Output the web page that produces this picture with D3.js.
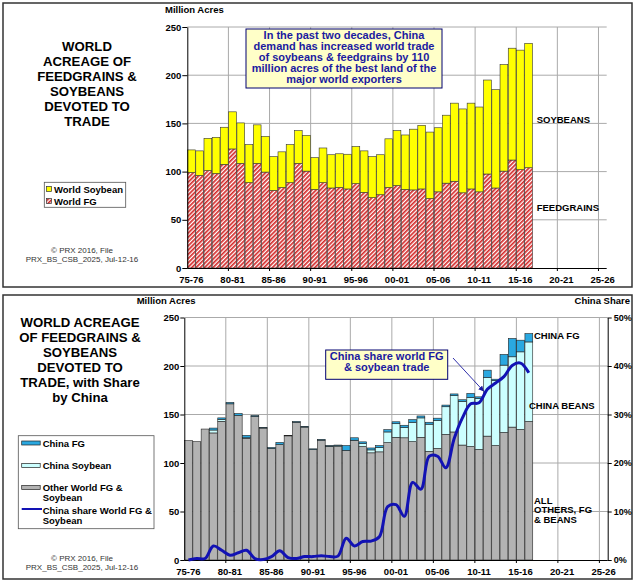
<!DOCTYPE html>
<html><head><meta charset="utf-8">
<script src="https://cdn.jsdelivr.net/npm/d3@7"></script>
<style>body{margin:0;background:#fff}svg{display:block}text{font-family:"Liberation Sans",Arial,Helvetica,sans-serif}</style>
</head><body><svg id="c" width="638" height="584"></svg>
<script>
// ---------- DATA ----------
const categories = ["75-76","76-77","77-78","78-79","79-80","80-81","81-82","82-83","83-84","84-85",
"85-86","86-87","87-88","88-89","89-90","90-91","91-92","92-93","93-94","94-95",
"95-96","96-97","97-98","98-99","99-00","00-01","01-02","02-03","03-04","04-05",
"05-06","06-07","07-08","08-09","09-10","10-11","11-12","12-13","13-14","14-15",
"15-16","16-17","17-18","18-19","19-20","20-21","21-22","22-23","23-24","24-25","25-26"];
const tickLabels = ["75-76","80-81","85-86","90-91","95-96","00-01","05-06","10-11","15-16","20-21","25-26"];
const yTicks = [0,50,100,150,200,250];
const shareTicks = [0,0.1,0.2,0.3,0.4,0.5];

// Top chart (million acres)
const worldFG = [99,96,101,98,107.5,123.5,108.5,88.5,108.5,99.5,80.5,83.5,88.5,108.5,100.5,81.5,88.5,83,83.5,82,
87.5,78.5,73,76,83.5,85.5,81.5,81,82,72,79,88,90,78,82,79,97.5,83,100.5,112,102,104];
const worldSoy = [23.5,25.5,33.5,37.5,38.5,38.5,42,39.5,40,37,35,37,39.5,34,37,33,36,34.5,35,36,
38.5,43,42.5,41.5,50.5,57,56.5,63,66,69,66.5,70.5,81,87,89,88,97.5,102,110.5,116,124,129];

// Bottom chart (million acres, share %)
const otherWorld = [123,122,135,131,143,161,149,125.5,148,136,115,119,128,142,137,114,123.5,117,117,113,
123,117,110.5,111.5,121,126.5,126,122,126.5,112,115,129.5,132,118.5,117,114,127.7,118,131.5,137,134.6,142.8];
const chinaSoy = [0,0,0,3,2,0,0,0.5,0,0,0,0,0,0,0,0,0,0.3,1,0,
0.5,3,3,4.5,11,14,10.5,20,20,28,28.8,28.5,37.5,45,50.6,52.5,60.4,67,69.4,72.5,80,82];
const chinaFG = [0,0,0,2,1.5,1.5,2,2.5,1,0.8,1,2.2,0.5,0.8,0.8,0.6,0.8,0.7,0.5,5,
2.5,1.8,2,2,2.4,2,2.4,2.7,2,2,2.4,1.7,1.7,1.7,4.1,1.7,7.6,1.4,11,18.9,12,8.6];
const chinaShare = [0,0.3,0.3,2.9,2,1,1.5,2,0.3,0.1,0.7,1.9,0.5,0.3,0.7,0.7,0.9,0.7,0.8,4.5,
2.9,3.8,3.9,4.8,11,11.4,9,16,14.6,21.4,21.4,19,25,29.3,32.2,32.4,35.2,36.5,37.8,40.1,40.6,38.6];

// ---------- DRAW ----------
const svg = d3.select("#c");
const FONT = '"Liberation Sans",Arial,Helvetica,sans-serif';
const defs = svg.append("defs");
const pat = defs.append("pattern").attr("id","hatch").attr("patternUnits","userSpaceOnUse")
  .attr("width",3).attr("height",3).attr("patternTransform","rotate(45)");
pat.append("rect").attr("width",3).attr("height",3).attr("fill","#fff");
pat.append("rect").attr("width",1.7).attr("height",3).attr("fill","#d42a2a");

// panels
svg.append("rect").attr("x",3).attr("y",3).attr("width",629).attr("height",284)
  .attr("fill","#fff").attr("stroke","#333").attr("stroke-width",1.5);
svg.append("rect").attr("x",3).attr("y",295).attr("width",629).attr("height",284)
  .attr("fill","#fff").attr("stroke","#333").attr("stroke-width",1.5);

function textLines(g, lines, x, y0, dy, opts) {
  lines.forEach((t,i)=>{
    g.append("text").attr("x",x).attr("y",y0+i*dy).text(t)
      .attr("font-size",opts.size).attr("font-weight",opts.weight||"bold")
      .attr("fill",opts.fill||"#000").attr("text-anchor",opts.anchor||"middle");
  });
}

function styleAxis(g){
  g.selectAll("text").attr("font-family",FONT).attr("font-size",9.5).attr("font-weight","bold").attr("fill","#000");
  g.selectAll("line").attr("stroke","#000");
  g.select(".domain").attr("stroke","#000");
}

function drawFrame(x, y, x0, x1, y0, y1) {
  const gg = svg.append("g");
  gg.selectAll(".hg").data(yTicks.slice(1)).join("line")
    .attr("x1",x0).attr("x2",x1).attr("y1",d=>y(d)).attr("y2",d=>y(d))
    .attr("stroke","#aaa").attr("stroke-width",1);
  const step = x.step(), pin = x.paddingInner();
  const bounds = categories.map((c,i)=>i).filter(i=>i%5===0 && i>0).map(i=>x(categories[i]) - step*pin/2);
  gg.selectAll(".vg").data(bounds).join("line")
    .attr("x1",d=>d).attr("x2",d=>d).attr("y1",y0).attr("y2",y1)
    .attr("stroke","#aaa").attr("stroke-width",1);
  return bounds;
}

function drawAxes(x, y, x0, x1, y0, bounds, tickSize, tickPad, labPad) {
  const ax = svg.append("g").attr("transform",`translate(${x0},0)`)
    .call(d3.axisLeft(y).tickValues(yTicks).tickSize(tickSize).tickPadding(tickPad).tickSizeOuter(0));
  styleAxis(ax);
  const bx = svg.append("g").attr("transform",`translate(0,${y0})`)
    .call(d3.axisBottom(x).tickValues(tickLabels).tickSize(0).tickPadding(labPad).tickSizeOuter(0));
  styleAxis(bx);
  bx.select(".domain").attr("d",`M${x0},0.5H${x1}`);
  svg.append("g").selectAll("line").data(bounds).join("line")
    .attr("x1",d=>d).attr("x2",d=>d).attr("y1",y0).attr("y2",y0+3).attr("stroke","#000");
}

// ===== TOP CHART =====
{
  const x0 = 187.3, x1 = 606.7, y0 = 268, y1 = 27;
  const x = d3.scaleBand().domain(categories).range([x0,x1]).paddingInner(0.06).paddingOuter(0.03);
  const y = d3.scaleLinear().domain([0,250]).range([y0,y1]);
  const bounds = drawFrame(x,y,x0,x1,y0,y1);
  const rows = worldFG.map((v,i)=>({cat:categories[i], fg:v, soy:worldSoy[i]}));
  const stack = d3.stack().keys(["fg","soy"])(rows);
  const fills = {fg:"url(#hatch)", soy:"#ffff00"};
  svg.append("g").selectAll("g").data(stack).join("g")
    .attr("fill",d=>fills[d.key]).attr("stroke","#333").attr("stroke-width",0.6)
    .selectAll("rect").data(d=>d).join("rect")
    .attr("x",d=>x(d.data.cat)).attr("width",x.bandwidth())
    .attr("y",d=>y(d[1])).attr("height",d=>y(d[0])-y(d[1]));
  drawAxes(x,y,x0,x1,y0,bounds,5,1,8);

  svg.append("text").attr("x",165).attr("y",12.5).text("Million Acres")
    .attr("font-size",9.5).attr("font-weight","bold");
  textLines(svg,["WORLD","ACREAGE OF","FEEDGRAINS &","SOYBEANS","DEVOTED TO","TRADE"],87,50.5,15,{size:13.2});
  // legend
  svg.append("rect").attr("x",44.3).attr("y",182.3).attr("width",81.4).attr("height",25)
    .attr("fill","#fff").attr("stroke","#555").attr("stroke-width",0.8);
  svg.append("rect").attr("x",46.5).attr("y",186.5).attr("width",5).attr("height",5)
    .attr("fill","#ffff00").attr("stroke","#333").attr("stroke-width",0.7);
  svg.append("rect").attr("x",46.5).attr("y",198.5).attr("width",5).attr("height",5)
    .attr("fill","url(#hatch)").attr("stroke","#333").attr("stroke-width",0.7);
  svg.append("text").attr("x",54).attr("y",192.5).text("World Soybean").attr("font-size",9.5).attr("font-weight","bold");
  svg.append("text").attr("x",54).attr("y",204.5).text("World FG").attr("font-size",9.5).attr("font-weight","bold");
  textLines(svg,["© PRX 2016, File","PRX_BS_CSB_2025, Jul-12-16"],82,253,9.3,{size:8,weight:"normal",fill:"#333"});
  // annotation
  svg.append("rect").attr("x",246).attr("y",29).attr("width",196).attr("height",59)
    .attr("fill","#ffffc8").attr("stroke","#000070").attr("stroke-width",1);
  textLines(svg,["In the past two decades, China","demand has increased world trade",
    "of soybeans & feedgrains by 110","million acres of the best land of the","major world exporters"],
    344,39.2,11,{size:11,fill:"#1a1aa0"});
  svg.append("text").attr("x",536.7).attr("y",122.7).text("SOYBEANS").attr("font-size",9.5).attr("font-weight","bold");
  svg.append("text").attr("x",536.7).attr("y",210.5).text("FEEDGRAINS").attr("font-size",9.5).attr("font-weight","bold");
}

// ===== BOTTOM CHART =====
{
  const x0 = 184.3, x1 = 607.7, y0 = 560, y1 = 317.5;
  const x = d3.scaleBand().domain(categories).range([x0,x1]).paddingInner(0.06).paddingOuter(0.03);
  const y = d3.scaleLinear().domain([0,250]).range([y0,y1]);
  const yR = d3.scaleLinear().domain([0,0.5]).range([y0,y1]);
  const bounds = drawFrame(x,y,x0,x1,y0,y1);
  const rows = otherWorld.map((v,i)=>({cat:categories[i], other:v, soy:chinaSoy[i], fg:chinaFG[i]}));
  const stack = d3.stack().keys(["other","soy","fg"])(rows);
  const fills = {other:"#b3b3b3", soy:"#ccffff", fg:"#2aa8e0"};
  svg.append("g").selectAll("g").data(stack).join("g")
    .attr("fill",d=>fills[d.key]).attr("stroke","#222").attr("stroke-width",0.6)
    .selectAll("rect").data(d=>d).join("rect")
    .attr("x",d=>x(d.data.cat)).attr("width",x.bandwidth())
    .attr("y",d=>y(d[1])).attr("height",d=>Math.max(0,y(d[0])-y(d[1])));
  drawAxes(x,y,x0,x1,y0,bounds,4,1,8.3);
  const ar = svg.append("g").attr("transform",`translate(${x1},0)`)
    .call(d3.axisRight(yR).tickValues(shareTicks).tickFormat(d3.format(".0%")).tickSize(4).tickPadding(2).tickSizeOuter(0));
  styleAxis(ar);
  ar.selectAll("text").attr("font-size",9);

  const line = d3.line().x((d,i)=>x(categories[i])+x.bandwidth()/2).y(d=>yR(d/100))
    .curve(d3.curveCatmullRom.alpha(0.5));
  svg.append("path").datum(chinaShare).attr("d",line).attr("fill","none")
    .attr("stroke","#1212b4").attr("stroke-width",3).attr("stroke-linejoin","round");

  svg.append("text").attr("x",136.7).attr("y",303.5).text("Million Acres").attr("font-size",9.5).attr("font-weight","bold");
  svg.append("text").attr("x",630).attr("y",303.5).attr("text-anchor","end").text("China Share").attr("font-size",9.5).attr("font-weight","bold");
  textLines(svg,["WORLD ACREAGE","OF FEEDGRAINS &","SOYBEANS","DEVOTED TO","TRADE, with Share","by China"],80,326.5,15,{size:13.2});

  // legend
  svg.append("rect").attr("x",18.3).attr("y",435.7).attr("width",135.7).attr("height",93)
    .attr("fill","#fff").attr("stroke","#555").attr("stroke-width",0.8);
  const sw = [["#2aa8e0",441],["#ccffff",463.5],["#b3b3b3",485.5]];
  sw.forEach(s=>svg.append("rect").attr("x",21.7).attr("y",s[1]).attr("width",18.5).attr("height",4)
    .attr("fill",s[0]).attr("stroke","#222").attr("stroke-width",0.7));
  svg.append("line").attr("x1",21.7).attr("x2",42).attr("y1",509).attr("y2",509).attr("stroke","#1212b4").attr("stroke-width",2);
  const lt = (t,yy)=>svg.append("text").attr("x",42.7).attr("y",yy).text(t).attr("font-size",9.5).attr("font-weight","bold");
  lt("China FG",446.5); lt("China Soybean",469); lt("Other World FG &",491); lt("Soybean",501);
  lt("China share World FG &",513.5); lt("Soybean",523.5);
  textLines(svg,["© PRX 2016, File","PRX_BS_CSB_2025, Jul-12-16"],82,560.5,9.3,{size:8,weight:"normal",fill:"#333"});

  // annotation
  svg.append("rect").attr("x",325.7).attr("y",350).attr("width",122).attr("height",29.3)
    .attr("fill","#ffffc8").attr("stroke","#000070").attr("stroke-width",1);
  textLines(svg,["China share world FG","& soybean trade"],386.7,360,10.7,{size:11,fill:"#1a1aa0"});
  defs.append("marker").attr("id","arr").attr("viewBox","0 0 10 10").attr("refX",9).attr("refY",5)
    .attr("markerWidth",6).attr("markerHeight",6).attr("orient","auto")
    .append("path").attr("d","M0,0L10,5L0,10z").attr("fill","#1a1aa0");
  svg.append("line").attr("x1",453).attr("y1",358).attr("x2",483.5).attr("y2",391)
    .attr("stroke","#1a1aa0").attr("stroke-width",0.9).attr("marker-end","url(#arr)");

  svg.append("text").attr("x",534).attr("y",339).text("CHINA FG").attr("font-size",9.5).attr("font-weight","bold");
  svg.append("text").attr("x",529).attr("y",409).text("CHINA BEANS").attr("font-size",9.5).attr("font-weight","bold");
  textLines(svg,["ALL","OTHERS, FG","& BEANS"],534,503.5,9.7,{size:9.5,anchor:"start"});
}
</script></body></html>
